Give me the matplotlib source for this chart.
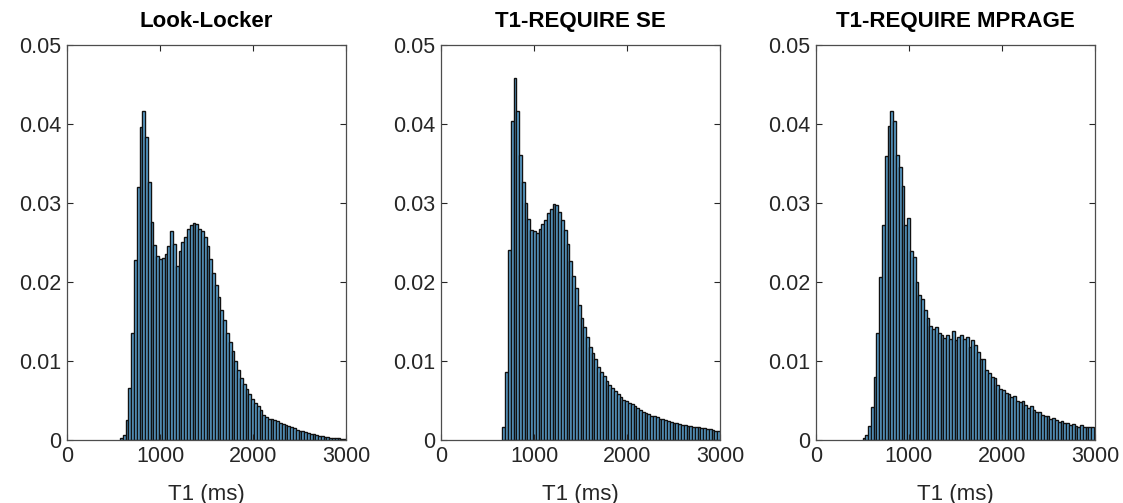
import numpy as np
import matplotlib
matplotlib.use("Agg")
import matplotlib.pyplot as plt

# Normalised T1 histograms (probability per 30 ms bin).

BIN_WIDTH = 30

titles = ["Look-Locker", "T1-REQUIRE SE", "T1-REQUIRE MPRAGE"]
bin_starts = [570, 660, 500]

look_locker = [
    0.0002, 0.0006, 0.0025, 0.0066, 0.0136, 0.0228, 0.0320, 0.0396, 0.0416, 0.0383,
    0.0327, 0.0276, 0.0247, 0.0233, 0.0229, 0.0230, 0.0235, 0.0245, 0.0265, 0.0248,
    0.0220, 0.0239, 0.0251, 0.0257, 0.0267, 0.0272, 0.0275, 0.0273, 0.0267, 0.0264,
    0.0257, 0.0245, 0.0229, 0.0212, 0.0196, 0.0181, 0.0165, 0.0152, 0.0136, 0.0124,
    0.0113, 0.0100, 0.0089, 0.0079, 0.0071, 0.0064, 0.0058, 0.0052, 0.0047, 0.0043,
    0.0038, 0.0032, 0.0029, 0.0027, 0.0026, 0.0025, 0.0024, 0.0022, 0.0020, 0.0019,
    0.0018, 0.0017, 0.0015, 0.0013, 0.0012, 0.0011, 0.0010, 0.0009, 0.0008, 0.0007,
    0.0006, 0.0005, 0.0005, 0.0004, 0.0004, 0.0003, 0.0002, 0.0002, 0.0002, 0.0001,
    0.0001,
]

require_se = [
    0.0016, 0.0086, 0.0240, 0.0404, 0.0458, 0.0416, 0.0361, 0.0327, 0.0300, 0.0280,
    0.0266, 0.0265, 0.0262, 0.0267, 0.0274, 0.0278, 0.0287, 0.0293, 0.0299, 0.0297,
    0.0289, 0.0278, 0.0266, 0.0248, 0.0227, 0.0207, 0.0192, 0.0171, 0.0155, 0.0143,
    0.0130, 0.0118, 0.0110, 0.0103, 0.0093, 0.0086, 0.0081, 0.0075, 0.0070, 0.0066,
    0.0062, 0.0058, 0.0055, 0.0051, 0.0049, 0.0047, 0.0045, 0.0043, 0.0040, 0.0038,
    0.0036, 0.0034, 0.0033, 0.0031, 0.0030, 0.0029, 0.0027, 0.0026, 0.0025, 0.0024,
    0.0023, 0.0022, 0.0021, 0.0020, 0.0019, 0.0019, 0.0018, 0.0018, 0.0017, 0.0016,
    0.0016, 0.0015, 0.0015, 0.0014, 0.0014, 0.0013, 0.0012, 0.0012,
]

require_mprage = [
    0.0003, 0.0006, 0.0018, 0.0042, 0.0080, 0.0136, 0.0206, 0.0272, 0.0359, 0.0397,
    0.0417, 0.0404, 0.0361, 0.0346, 0.0322, 0.0272, 0.0281, 0.0239, 0.0232, 0.0200,
    0.0184, 0.0179, 0.0164, 0.0154, 0.0144, 0.0141, 0.0143, 0.0135, 0.0133, 0.0129,
    0.0133, 0.0128, 0.0138, 0.0126, 0.0130, 0.0133, 0.0128, 0.0131, 0.0118, 0.0127,
    0.0120, 0.0112, 0.0103, 0.0103, 0.0089, 0.0085, 0.0080, 0.0078, 0.0070, 0.0065,
    0.0063, 0.0060, 0.0058, 0.0055, 0.0056, 0.0050, 0.0048, 0.0049, 0.0044, 0.0041,
    0.0043, 0.0038, 0.0035, 0.0036, 0.0032, 0.0030, 0.0031, 0.0027, 0.0028, 0.0025,
    0.0023, 0.0024, 0.0021, 0.0022, 0.0019, 0.0020, 0.0018, 0.0017, 0.0019, 0.0016,
    0.0017, 0.0016, 0.0017,
]

series = [look_locker, require_se, require_mprage]

x_ticks = [0, 1000, 2000, 3000]
y_ticks = [0, 0.01, 0.02, 0.03, 0.04, 0.05]
y_tick_labels = ["0", "0.01", "0.02", "0.03", "0.04", "0.05"]

plt.rcParams["font.family"] = ["Liberation Sans", "DejaVu Sans"]
axis_color = "#262626"
bar_color = "#5ea5d5"

fig = plt.figure(figsize=(11.23, 5.03), dpi=100)
lefts = [67 / 1123, 441 / 1123, 816 / 1123]

for left, title, start, values in zip(lefts, titles, bin_starts, series):
    ax = fig.add_axes([left, 63 / 503, 279 / 1123, 395 / 503])
    edges = start + BIN_WIDTH * np.arange(len(values))
    ax.bar(edges, values, width=BIN_WIDTH, align="edge",
           color=bar_color, edgecolor="#111111", linewidth=1.0)

    ax.set_xlim(0, 3000)
    ax.set_ylim(0, 0.05)
    ax.set_xticks(x_ticks)
    ax.set_yticks(y_ticks)
    ax.set_yticklabels(y_tick_labels)
    ax.tick_params(direction="in", length=4, width=0.8, top=True, right=True,
                   labelsize=15.5, colors=axis_color, pad=4)
    for spine in ax.spines.values():
        spine.set_color("#4d4d4d")
        spine.set_linewidth(0.9)

    ax.set_title(title, fontsize=16, fontweight="bold", pad=13, color="black")
    ax.set_xlabel("T1 (ms)", fontsize=16, color=axis_color)
    ax.xaxis.set_label_coords(0.5, -0.112)

plt.savefig("out.png", dpi=100)
plt.close()
